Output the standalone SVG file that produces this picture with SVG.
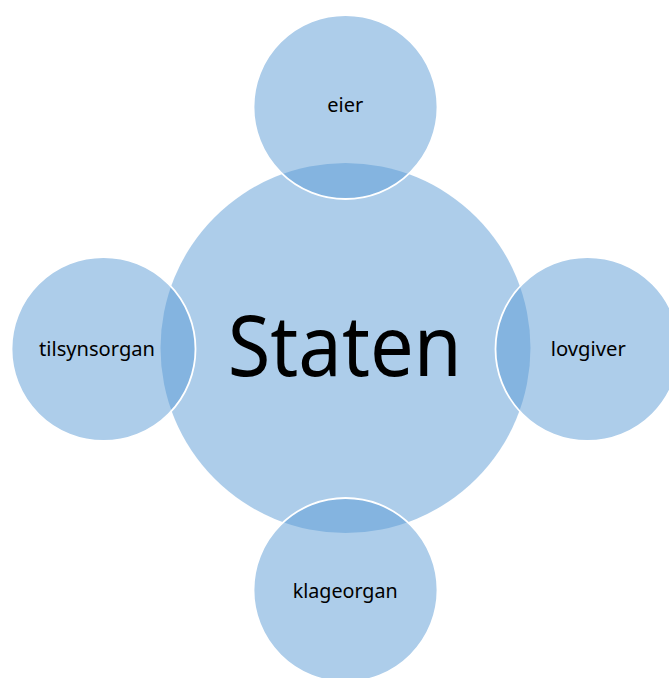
<svg xmlns="http://www.w3.org/2000/svg" width="669" height="678" viewBox="0 0 669 678">
<style>
.c{fill:#5B9BD5;fill-opacity:0.5;stroke:#FFFFFF;stroke-width:1.8}
.m{fill:#5B9BD5;fill-opacity:0.5}
.t{font-family:"Noto Sans","Open Sans",sans-serif;font-size:19px;fill:#000;text-anchor:middle}
.big{font-family:"Noto Sans","Open Sans",sans-serif;font-size:84px;fill:#000;text-anchor:middle}
</style>
<rect width="669" height="678" fill="#FFFFFF"/>
<g id="staten">
<circle class="m" cx="345.5" cy="348" r="185"/>
<text class="big" x="344.7" y="376" textLength="234" lengthAdjust="spacingAndGlyphs">Staten</text>
</g>
<g id="connectors"></g>
<g id="eier">
<circle class="c" cx="345.5" cy="107" r="92"/>
<text class="t" x="345.3" y="112" textLength="36" lengthAdjust="spacingAndGlyphs">eier</text>
</g>
<g id="lovgiver">
<circle class="c" cx="587.5" cy="349" r="92"/>
<text class="t" x="588.3" y="356" textLength="75" lengthAdjust="spacingAndGlyphs">lovgiver</text>
</g>
<g id="klageorgan">
<circle class="c" cx="345.5" cy="590" r="92"/>
<text class="t" x="345.2" y="598" textLength="105" lengthAdjust="spacingAndGlyphs">klageorgan</text>
</g>
<g id="tilsynsorgan">
<circle class="c" cx="103.5" cy="349" r="92"/>
<text class="t" x="97" y="356" textLength="116" lengthAdjust="spacingAndGlyphs">tilsynsorgan</text>
</g>
</svg>
